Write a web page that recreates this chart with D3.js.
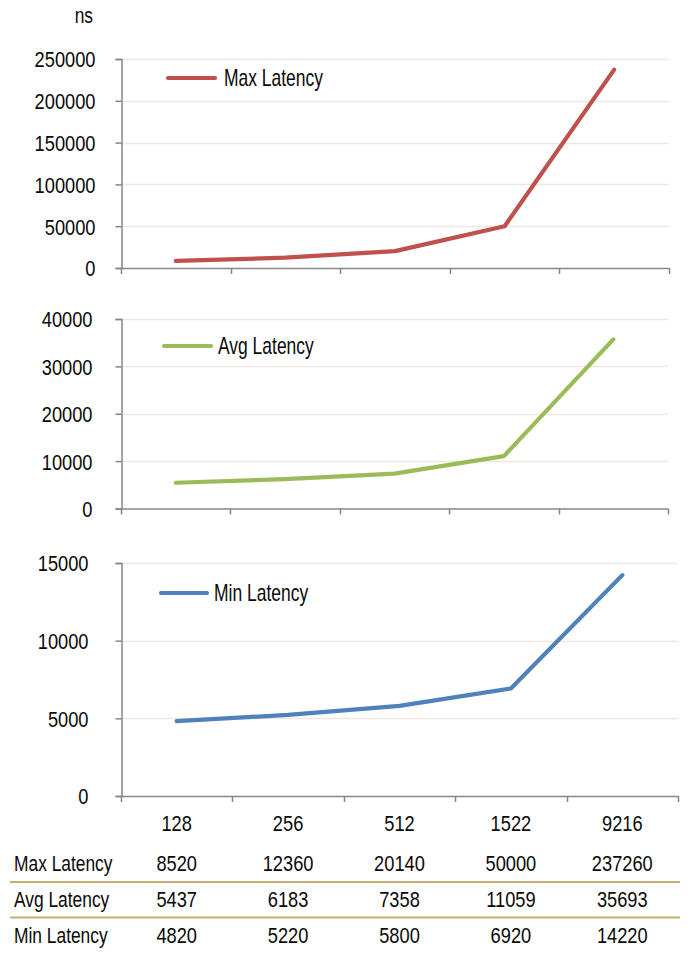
<!DOCTYPE html>
<html>
<head>
<meta charset="utf-8">
<script src="https://cdn.jsdelivr.net/npm/d3@7"></script>
<style>
  html, body { margin: 0; padding: 0; background: #fff; }
  svg text { font-family: "Liberation Sans", Arial, sans-serif; fill: #0a0a0a; }
</style>
</head>
<body>
<svg id="chart" width="691" height="974"></svg>
<script>
// Packet size categories (bytes)
const categories = ["128", "256", "512", "1522", "9216"];

// Latency series, ns
const maxLatency = [8520, 12360, 20140, 50000, 237260];
const avgLatency = [5437, 6183, 7358, 11059, 35693];
const minLatency = [4820, 5220, 5800, 6920, 14220];

// Y tick values per panel
const maxTicks = [0, 50000, 100000, 150000, 200000, 250000];
const avgTicks = [0, 10000, 20000, 30000, 40000];
const minTicks = [0, 5000, 10000, 15000];

const seriesNames = ["Max Latency", "Avg Latency", "Min Latency"];
const seriesColors = ["#c0504d", "#9bbb59", "#4f81bd"];

const svg = d3.select("#chart");
const FONT = 22;
const LEGEND_FONT = 23;
const NUM_SQUEEZE = 0.83;    // horizontal condensing for numbers
const WORD_SQUEEZE = 0.79;   // horizontal condensing for words
const LEGEND_SQUEEZE = 0.76;
const axisColor = "#878787";
const gridColor = "#ede9df";

// Condense a text element horizontally while keeping its anchor point in place
function condense(sel, s) {
  sel.each(function () {
    const t = d3.select(this);
    const x = +t.attr("x") || 0;
    t.attr("x", x / s).attr("transform", `scale(${s},1)`);
  });
}

const panels = [
  { values: maxLatency, ticks: maxTicks, color: seriesColors[0], name: seriesNames[0],
    left: 121, right: 669, top: 59, bottom: 268, labelGap: 26,
    legend: { x1: 168, x2: 215, y: 78, tx: 224 } },
  { values: avgLatency, ticks: avgTicks, color: seriesColors[1], name: seriesNames[1],
    left: 121, right: 668, top: 319, bottom: 508.5, labelGap: 29,
    legend: { x1: 164, x2: 211, y: 346, tx: 218 } },
  { values: minLatency, ticks: minTicks, color: seriesColors[2], name: seriesNames[2],
    left: 121, right: 678, top: 563, bottom: 796, labelGap: 33,
    legend: { x1: 161, x2: 207, y: 593, tx: 214 } }
];

let lastX = null;

panels.forEach(p => {
  const x = d3.scaleBand().domain(categories).range([p.left, p.right]).paddingInner(0).paddingOuter(0);
  const y = d3.scaleLinear().domain([0, d3.max(p.ticks)]).range([p.bottom, p.top]);
  const g = svg.append("g");

  // horizontal gridlines
  g.selectAll("line.grid").data(p.ticks.filter(t => t > 0)).join("line")
    .attr("x1", p.left).attr("x2", p.right)
    .attr("y1", d => Math.round(y(d)) + 0.5).attr("y2", d => Math.round(y(d)) + 0.5)
    .attr("stroke", gridColor).attr("stroke-width", 1.5);

  // y axis
  const yAxis = d3.axisLeft(y).tickValues(p.ticks).tickSize(6).tickPadding(p.labelGap - 6)
    .tickFormat(d3.format("d"));
  const ya = g.append("g").attr("transform", `translate(${p.left + 0.5},0)`).call(yAxis);
  ya.attr("font-family", null).attr("font-size", null);
  ya.select(".domain").attr("stroke", axisColor).attr("stroke-width", 1.5);
  ya.selectAll(".tick line").attr("stroke", axisColor).attr("stroke-width", 1.5);
  ya.selectAll(".tick text").attr("font-size", FONT).attr("fill", "#0a0a0a").attr("dy", "0.36em")
    .call(condense, NUM_SQUEEZE);

  // x axis: ticks at band boundaries, no labels
  const bounds = categories.map(c => x(c)).concat([p.right]);
  g.append("line").attr("x1", p.left).attr("x2", p.right)
    .attr("y1", p.bottom + 0.5).attr("y2", p.bottom + 0.5)
    .attr("stroke", axisColor).attr("stroke-width", 1.5);
  g.selectAll("line.xt").data(bounds).join("line")
    .attr("x1", d => Math.round(d) + 0.5).attr("x2", d => Math.round(d) + 0.5)
    .attr("y1", p.bottom).attr("y2", p.bottom + 6)
    .attr("stroke", axisColor).attr("stroke-width", 1.5);

  // series line
  const line = d3.line().x((d, i) => x(categories[i]) + x.bandwidth() / 2).y(d => y(d));
  g.append("path").datum(p.values).attr("d", line)
    .attr("fill", "none").attr("stroke", p.color).attr("stroke-width", 4.2)
    .attr("stroke-linecap", "round").attr("stroke-linejoin", "round");

  // legend
  g.append("line").attr("x1", p.legend.x1).attr("x2", p.legend.x2)
    .attr("y1", p.legend.y).attr("y2", p.legend.y)
    .attr("stroke", p.color).attr("stroke-width", 4.2).attr("stroke-linecap", "round");
  g.append("text").attr("x", p.legend.tx).attr("y", p.legend.y).attr("dy", "0.36em")
    .attr("font-size", LEGEND_FONT).text(p.name).call(condense, LEGEND_SQUEEZE);

  lastX = x;
});

// unit label
svg.append("text").attr("x", 93).attr("y", 23).attr("text-anchor", "end")
  .attr("font-size", FONT).text("ns").call(condense, WORD_SQUEEZE);

// data table under the last panel
const cx = c => lastX(c) + lastX.bandwidth() / 2;
svg.append("g").selectAll("text").data(categories).join("text")
  .attr("x", d => cx(d)).attr("y", 831).attr("text-anchor", "middle")
  .attr("font-size", FONT).text(d => d).call(condense, NUM_SQUEEZE);

const rows = [maxLatency, avgLatency, minLatency];
const rowBaselines = [871, 907, 943];
rows.forEach((vals, r) => {
  const rg = svg.append("g");
  rg.append("text").attr("x", 14).attr("y", rowBaselines[r]).attr("font-size", FONT)
    .text(seriesNames[r]).call(condense, WORD_SQUEEZE);
  rg.selectAll("text.v").data(vals).join("text").attr("class", "v")
    .attr("x", (d, i) => cx(categories[i])).attr("y", rowBaselines[r])
    .attr("text-anchor", "middle").attr("font-size", FONT).text(d => d)
    .call(condense, NUM_SQUEEZE);
});

// row separators
svg.selectAll("line.sep").data([882, 917.5]).join("line")
  .attr("x1", 10).attr("x2", 680).attr("y1", d => d).attr("y2", d => d)
  .attr("stroke", "#c8ae72").attr("stroke-width", 2);
</script>
</body>
</html>
